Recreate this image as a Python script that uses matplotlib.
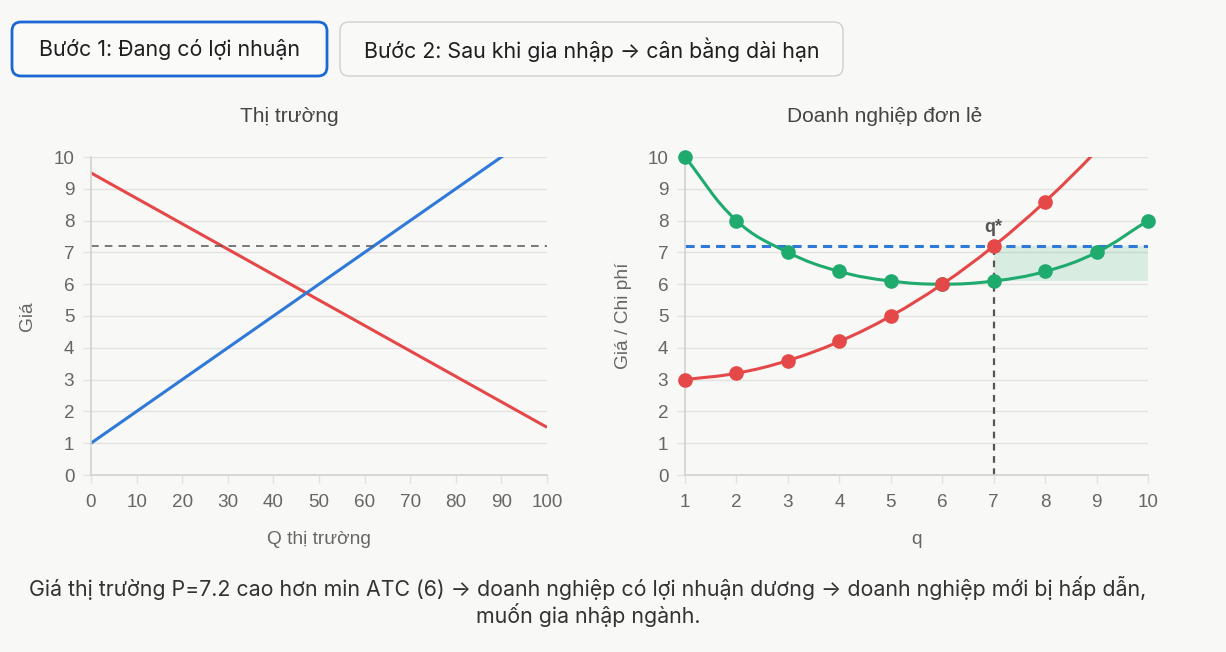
import numpy as np
import matplotlib
matplotlib.use("Agg")
import matplotlib.pyplot as plt
from matplotlib.patches import FancyBboxPatch, PathPatch
from matplotlib.path import Path

# ---------------- data ----------------
buttons = ["Bước 1: Đang có lợi nhuận", "Bước 2: Sau khi gia nhập → cân bằng dài hạn"]
market_title = "Thị trường"
firm_title = "Doanh nghiệp đơn lẻ"
caption_lines = ["Giá thị trường P=7.2 cao hơn min ATC (6) → doanh nghiệp có lợi nhuận dương → doanh nghiệp mới bị hấp dẫn,",
                 "muốn gia nhập ngành."]

Q_market = [0, 100]
demand = [9.5, 1.5]
supply = [1.0, 11.0]
market_price = 7.2
market_xticks = [0, 10, 20, 30, 40, 50, 60, 70, 80, 90, 100]

q_firm = [1, 2, 3, 4, 5, 6, 7, 8, 9, 10]
MC = [3.0, 3.2, 3.6, 4.2, 5.0, 6.0, 7.2, 8.6, 10.2, 12.0]
ATC = [10.0, 8.0, 7.0, 6.4, 6.1, 6.0, 6.1, 6.4, 7.0, 8.0]
q_star = 7
atc_at_qstar = 6.1
yticks = [0, 1, 2, 3, 4, 5, 6, 7, 8, 9, 10]

# ---------------- style ----------------
BG = "#f8f8f6"
RED = "#e54848"
BLUE = "#2f79d9"
GREEN = "#1faa6e"
GRID = "#e2e2de"
SPINE = "#d2d2ce"
TICKC = "#666666"
W, H = 1226, 652
TICK_FS = 13.6
LAB_FS = 13.8
TITLE_FS = 15.0
UI_FS = 15.4

fig = plt.figure(figsize=(W / 100, H / 100), dpi=100, facecolor=BG)

def px_axes(x0, x1, ytop, ybot):
    return fig.add_axes([x0 / W, 1 - ybot / H, (x1 - x0) / W, (ybot - ytop) / H])

CHART_FONT = ["Liberation Sans", "DejaVu Sans"]
UI_FONT = ["Inter", "DejaVu Sans"]

def style_axes(ax, xlabel, ylabel, ylab_px_x, left_px):
    ax.set_facecolor(BG)
    ax.set_ylim(0, 10)
    ax.set_yticks(yticks)
    ax.grid(axis="y", color=GRID, linewidth=1.0)
    ax.grid(axis="x", visible=False)
    ax.set_axisbelow(True)
    for s in ["top", "right"]:
        ax.spines[s].set_visible(False)
    for s in ["left", "bottom"]:
        ax.spines[s].set_color(SPINE)
        ax.spines[s].set_linewidth(1.2)
    ax.tick_params(axis="y", length=6, width=1, color=GRID, pad=6, labelsize=TICK_FS, labelcolor=TICKC)
    ax.tick_params(axis="x", length=6, width=1, color=GRID, pad=8, labelsize=TICK_FS, labelcolor=TICKC)
    for lab in ax.get_xticklabels() + ax.get_yticklabels():
        lab.set_family(CHART_FONT)
    ax.set_xlabel(xlabel, fontsize=LAB_FS, color=TICKC, family=CHART_FONT)
    ax.set_ylabel(ylabel, fontsize=LAB_FS, color=TICKC, family=CHART_FONT)
    ax.xaxis.set_label_coords(0.5, -(539 - 475) / 318)
    ax.xaxis.label.set_va("center")
    bb = ax.get_position()
    ax.yaxis.set_label_coords((ylab_px_x - left_px) / (bb.width * W), 0.5)
    ax.yaxis.label.set_va("center")

def smooth_path(ax, xs, ys, tension=0.4):
    xs = np.asarray(xs, float)
    ys = np.asarray(ys, float)
    bb = ax.get_position()
    x0, x1 = ax.get_xlim()
    y0, y1 = ax.get_ylim()
    sx = bb.width * W / (x1 - x0)
    sy = bb.height * H / (y1 - y0)
    P = np.column_stack([xs * sx, ys * sy])
    n = len(P)
    cprev = np.zeros_like(P)
    cnext = np.zeros_like(P)
    for i in range(n):
        prv = P[i - 1] if i > 0 else P[i]
        nxt = P[i + 1] if i < n - 1 else P[i]
        d01 = np.hypot(*(P[i] - prv))
        d12 = np.hypot(*(nxt - P[i]))
        tot = d01 + d12
        s01 = d01 / tot if tot else 0
        s12 = d12 / tot if tot else 0
        cprev[i] = P[i] - tension * s01 * (nxt - prv)
        cnext[i] = P[i] + tension * s12 * (nxt - prv)
    verts = [P[0]]
    codes = [Path.MOVETO]
    for i in range(n - 1):
        verts += [cnext[i], cprev[i + 1], P[i + 1]]
        codes += [Path.CURVE4] * 3
    verts = np.array(verts) / np.array([sx, sy])
    return Path(verts, codes)

# ---------------- buttons & caption ----------------
ov = fig.add_axes([0, 0, 1, 1], zorder=-1)
ov.set_xlim(0, W)
ov.set_ylim(H, 0)
ov.axis("off")
ov.patch.set_alpha(0)

btn_boxes = [(12, 327, 22, 76, "#1b68d4", 2.0, "#fafaf9"), (340, 843, 22, 76, "#cfcfcc", 1.0, "#f9f9f8")]
for label, (bx0, bx1, by0, by1, ec, lw, fc) in zip(buttons, btn_boxes):
    ov.add_patch(FancyBboxPatch((bx0, by0), bx1 - bx0, by1 - by0,
                                boxstyle="round,pad=0,rounding_size=9",
                                fc=fc, ec=ec, lw=lw))
    ov.text((bx0 + bx1) / 2, (by0 + by1) / 2 + 1, label, ha="center", va="center",
            fontsize=UI_FS, color="#1f1f1f", family=UI_FONT)

for k, line in enumerate(caption_lines):
    ov.text(588, 588 + k * 27, line, ha="center", va="center", fontsize=UI_FS,
            color="#333333", family=UI_FONT)

# ---------------- market chart ----------------
ax1 = px_axes(91, 547, 157, 475)
ax1.set_xlim(0, 100)
ax1.set_xticks(market_xticks)
style_axes(ax1, "Q thị trường", "Giá", 28, 91)
ax1.set_title(market_title, x=(289 - 91) / 456, y=1 + (157 - 116) / 318, pad=0, va="center",
              fontsize=TITLE_FS, color="#444444", family=CHART_FONT)
ax1.plot(Q_market, demand, color=RED, lw=2.2, solid_capstyle="butt")
ax1.plot(Q_market, supply, color=BLUE, lw=2.2, solid_capstyle="butt")
ax1.axhline(market_price, color="#555555", lw=1.1, ls=(0, (5, 4)))

# ---------------- firm chart ----------------
ax2 = px_axes(685, 1148, 157, 475)
ax2.set_xlim(1, 10)
ax2.set_xticks(q_firm)
style_axes(ax2, "q", "Giá / Chi phí", 624, 685)
ax2.set_title(firm_title, x=(885 - 685) / 463, y=1 + (157 - 116) / 318, pad=0, va="center",
              fontsize=TITLE_FS, color="#444444", family=CHART_FONT)

qs = np.array(q_firm)
ax2.fill_between([q_star, q_firm[-1]], [atc_at_qstar] * 2, [market_price] * 2,
                 color=GREEN, alpha=0.14, lw=0, zorder=1)
ax2.plot([q_firm[0], q_firm[-1]], [market_price] * 2, color=BLUE, lw=2.2,
         ls=(0, (3, 2)), zorder=2)
ax2.plot([q_star, q_star], [0, market_price], color="#555555", lw=1.6,
         ls=(0, (3, 2.5)), zorder=2)

ax2.add_patch(PathPatch(smooth_path(ax2, q_firm, ATC), fc="none", ec=GREEN, lw=2.2, zorder=3))
ax2.add_patch(PathPatch(smooth_path(ax2, q_firm, MC), fc="none", ec=RED, lw=2.2, zorder=3))

atc_arr = np.array(ATC)
mc_arr = np.array(MC)
vis = atc_arr <= 10
ax2.plot(qs[vis], atc_arr[vis], ls="none", marker="o", ms=9.5, color=GREEN, clip_on=False, zorder=4)
vis = mc_arr <= 10
ax2.plot(qs[vis], mc_arr[vis], ls="none", marker="o", ms=9.5, color=RED, clip_on=False, zorder=4)

ax2.annotate("q*", (q_star, market_price), xytext=(0, 13), textcoords="offset points",
             ha="center", va="center", fontsize=13, fontweight="bold", color="#555555",
             family=CHART_FONT, zorder=5)

fig.savefig("out.png", dpi=100, facecolor=BG)
